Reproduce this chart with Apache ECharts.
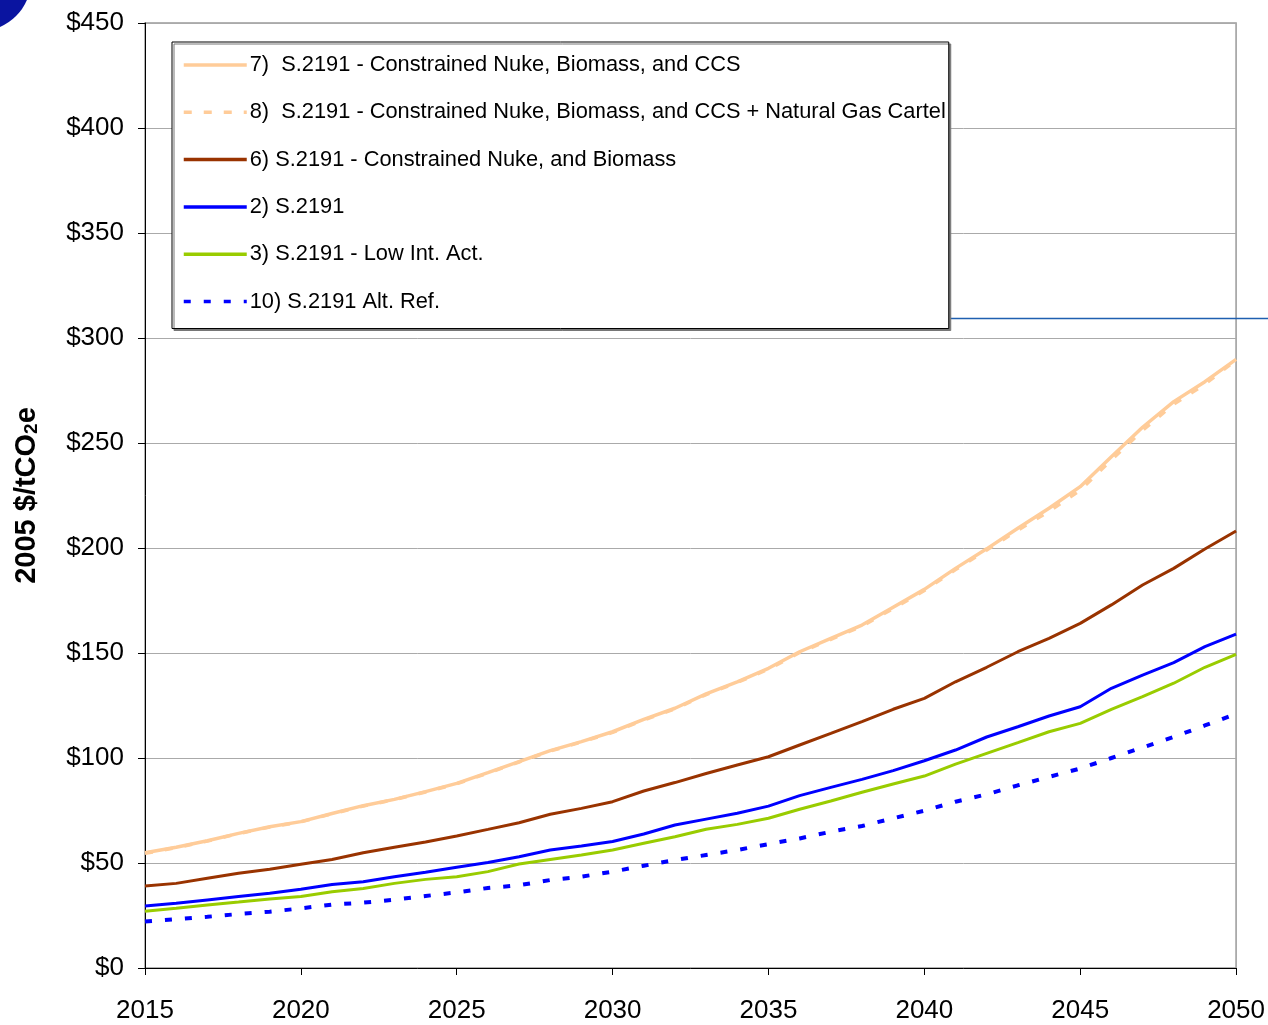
<!DOCTYPE html>
<html>
<head>
<meta charset="utf-8">
<script src="https://cdn.jsdelivr.net/npm/echarts@6/dist/echarts.min.js"></script>
<style>
  html, body { margin: 0; padding: 0; background: #fff; }
  #chart1 { width: 1268px; height: 1025px; }
</style>
</head>
<body>
<div id="chart1"></div>
<script>
var years = [2015, 2016, 2017, 2018, 2019, 2020, 2021, 2022, 2023, 2024,
             2025, 2026, 2027, 2028, 2029, 2030, 2031, 2032, 2033, 2034,
             2035, 2036, 2037, 2038, 2039, 2040, 2041, 2042, 2043, 2044,
             2045, 2046, 2047, 2048, 2049, 2050];

var names = [
    '7)  S.2191 - Constrained Nuke, Biomass, and CCS',
    '8)  S.2191 - Constrained Nuke, Biomass, and CCS + Natural Gas Cartel',
    '6) S.2191 - Constrained Nuke, and Biomass',
    '2) S.2191',
    '3) S.2191 - Low Int. Act.',
    '10) S.2191 Alt. Ref.'
];

// 7) constrained nuke, biomass, CCS
var s7 = [54.9, 57.5, 60.6, 64.1, 67.3, 69.7, 73.6, 77.3, 80.3, 84.0,
          87.9, 93.0, 98.3, 103.5, 107.8, 112.5, 118.4, 123.7, 130.5, 136.3,
          142.7, 150.6, 157.0, 163.3, 171.8, 180.3, 190.3, 199.6, 209.4, 218.9,
          229.2, 243.5, 257.5, 269.7, 279.2, 289.8];
// 8) same + natural gas cartel
var s8 = [54.6, 57.3, 60.4, 64.0, 67.1, 69.6, 73.4, 77.1, 80.2, 83.8,
          87.7, 92.8, 98.1, 103.3, 107.6, 112.2, 118.1, 123.4, 130.2, 136.0,
          142.3, 150.2, 156.5, 162.8, 171.2, 179.8, 189.7, 199.0, 208.5, 217.5,
          227.5, 242.0, 256.0, 268.5, 278.0, 289.5];
// 6) constrained nuke and biomass
var s6 = [39.0, 40.3, 42.7, 45.1, 47.0, 49.4, 51.7, 54.9, 57.5, 60.0,
          62.9, 66.0, 69.2, 73.2, 76.0, 79.2, 84.3, 88.3, 92.6, 96.7,
          100.6, 106.2, 111.7, 117.3, 123.2, 128.4, 136.3, 143.2, 150.6, 157.0,
          164.1, 172.9, 182.4, 190.3, 199.5, 208.1];
// 2) S.2191
var s2 = [29.5, 30.8, 32.4, 34.0, 35.6, 37.5, 39.8, 41.1, 43.5, 45.6,
          48.0, 50.2, 53.0, 56.2, 58.1, 60.2, 63.8, 68.1, 70.9, 73.7,
          77.1, 82.1, 86.0, 89.8, 94.0, 98.7, 103.8, 110.0, 114.9, 120.0,
          124.4, 133.2, 139.5, 145.4, 153.0, 159.0];
// 3) low int. act.
var s3 = [27.0, 28.4, 30.0, 31.4, 32.9, 34.0, 36.3, 37.9, 40.3, 42.2,
          43.5, 45.9, 49.5, 51.7, 53.8, 56.2, 59.4, 62.5, 66.1, 68.4,
          71.3, 75.6, 79.5, 83.7, 87.6, 91.4, 97.1, 102.2, 107.3, 112.5,
          116.5, 123.2, 129.2, 135.6, 143.2, 149.4];
// 10) alt. ref.
var s10 = [22.1, 23.2, 24.4, 25.7, 26.8, 28.4, 30.2, 31.1, 32.5, 34.3,
           36.0, 38.1, 39.4, 41.9, 43.5, 45.9, 48.7, 51.4, 53.8, 56.2,
           59.0, 61.7, 64.9, 67.6, 71.3, 74.9, 79.2, 82.7, 87.0, 91.0,
           95.0, 100.0, 105.0, 110.0, 115.5, 121.0];

var yTicks = [0, 50, 100, 150, 200, 250, 300, 350, 400, 450];
var xTicks = [2015, 2020, 2025, 2030, 2035, 2040, 2045, 2050];

function pairs(vals) {
    return years.map(function (y, i) { return [y, vals[i]]; });
}

function line(name, vals, color, width, dash) {
    return {
        type: 'line',
        name: name,
        data: pairs(vals),
        symbol: 'none',
        smooth: false,
        animation: false,
        lineStyle: { color: color, width: width, type: dash || 'solid' },
        itemStyle: { color: color, opacity: 0 }   // hides the dot in the legend icon
    };
}

var font = "'Liberation Sans', Arial, sans-serif";
var myChart1 = echarts.init(document.getElementById('chart1'));

myChart1.setOption({
    backgroundColor: '#fff',
    animation: false,
    grid: {
        left: 145, right: 31, top: 23, bottom: 57,
        show: true,
        borderColor: '#999',
        borderWidth: 1.5
    },
    legend: {
        data: names,
        orient: 'vertical',
        left: 172,
        top: 42,
        padding: [12, 3, 16, 10],
        itemWidth: 63,
        itemHeight: 14,
        itemGap: 25.3,
        backgroundColor: '#fff',
        borderColor: '#000',
        borderWidth: 1,
        shadowColor: '#777',
        shadowBlur: 0,
        shadowOffsetX: 2,
        shadowOffsetY: 2,
        lineStyle: { width: 3.5 },
        textStyle: { fontFamily: font, fontSize: 21.8, lineHeight: 22, color: '#000', padding: [0, 0, 0, -2] }
    },
    xAxis: {
        type: 'value',
        min: 2015,
        max: 2050,
        interval: 5,
        axisLine: { show: true, lineStyle: { color: '#000', width: 1 } },
        axisTick: { show: true, length: 7, lineStyle: { color: '#000' } },
        splitLine: { show: false },
        axisLabel: {
            margin: 30,
            fontFamily: font,
            fontSize: 26,
            color: '#000',
            formatter: function (v) { return xTicks.indexOf(v) >= 0 ? String(v) : ''; }
        }
    },
    yAxis: {
        type: 'value',
        min: 0,
        max: 450,
        interval: 50,
        name: '{a|2005 $/tCO}{b|2}{a|e}',
        nameLocation: 'middle',
        nameGap: 104,
        nameRotate: 90,
        nameTextStyle: {
            rich: {
                a: { fontFamily: font, fontSize: 29, fontWeight: 'bold', color: '#000' },
                b: { fontFamily: font, fontSize: 19, fontWeight: 'bold', color: '#000', verticalAlign: 'bottom', padding: [10, 0, 0, 0] }
            }
        },
        axisLine: { show: true, lineStyle: { color: '#000', width: 1 } },
        axisTick: { show: true, length: 7, lineStyle: { color: '#000' } },
        splitLine: { show: true, lineStyle: { color: '#aaa', width: 1 } },
        axisLabel: {
            margin: 21,
            fontFamily: font,
            fontSize: 26,
            color: '#000',
            formatter: function (v) { return yTicks.indexOf(v) >= 0 ? '$' + v : ''; }
        }
    },
    graphic: [
        {
            type: 'circle',
            shape: { cx: -20, cy: -20, r: 51 },
            style: { fill: '#0a14a0' },
            silent: true
        },
        {
            type: 'line',
            shape: { x1: 949, y1: 318.5, x2: 1268, y2: 318.5 },
            style: { stroke: '#1f5fb0', lineWidth: 1.5 },
            silent: true
        }
    ],
    series: [
        line(names[0], s7, '#ffcc99', 3.5),
        line(names[1], s8, '#ffcc99', 3.5, [8, 12]),
        line(names[2], s6, '#993300', 3),
        line(names[3], s2, '#0000ff', 3),
        line(names[4], s3, '#99cc00', 3),
        line(names[5], s10, '#0000ff', 4, [7, 13])
    ]
});

window.onresize = function () {
    myChart1.resize();
};
</script>
</body>
</html>
